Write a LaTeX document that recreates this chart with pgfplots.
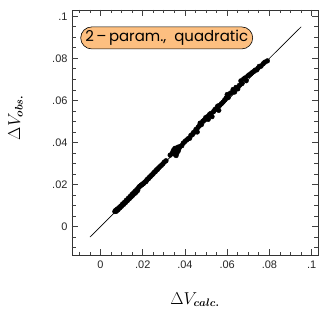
\documentclass[border=0pt]{standalone}
\usepackage{pgfplots}
\pgfplotsset{compat=1.18}
\usepackage{amsmath}
\usepackage{fontspec}
\setmainfont{Liberation Sans}
\newfontfamily\boxfont{Poppins}
\definecolor{boxorange}{HTML}{FDBF80}
\begin{document}
\begin{tikzpicture}
\begin{axis}[
  name=ax,
  scale only axis,
  width=246bp, height=245bp,
  xmin=-0.0135, xmax=0.103,
  ymin=-0.0135, ymax=0.103,
  xtick={0,0.02,0.04,0.06,0.08,0.1},
  xticklabels={0,.02,.04,.06,.08,.1},
  ytick={0,0.02,0.04,0.06,0.08,0.1},
  yticklabels={0,.02,.04,.06,.08,.1},
  minor xtick={-0.01,-0.005,0.005,0.01,0.015,0.025,0.03,0.035,0.045,0.05,0.055,0.065,0.07,0.075,0.085,0.09,0.095},
  minor ytick={-0.01,-0.005,0.005,0.01,0.015,0.025,0.03,0.035,0.045,0.05,0.055,0.065,0.07,0.075,0.085,0.09,0.095},
  xtick pos=both, ytick pos=both,
  tick align=inside,
  major tick length=6bp,
  minor tick length=3.5bp,
  tick style={draw=black!75, line width=0.8pt},
  axis line style={black!80, line width=0.7pt},
  xticklabel style={font=\fontsize{11}{13}\selectfont, text=black!85, yshift=-2bp},
  yticklabel style={font=\fontsize{11}{13}\selectfont, text=black!85, xshift=-1bp},
  scaled ticks=false,
  xlabel={$\Delta V_{\boldsymbol{calc.}}$},
  ylabel={$\Delta V_{\boldsymbol{obs.}}$},
  label style={font=\fontsize{16}{19}\selectfont},
  xlabel style={at={(axis description cs:0.5,-0.2)}, anchor=base, inner sep=0pt},
  ylabel style={at={(axis description cs:-0.26,0.56)}, anchor=north, inner sep=0pt},
  clip=false,
]
\pgfplotsinvokeforeach{0,0.02,0.04,0.06,0.08,0.1}{
  \draw[black!75, line width=0.8pt] (axis cs:#1,-0.0135) -- (axis cs:#1,-0.01066);
  \draw[black!75, line width=0.8pt] (axis cs:#1,0.103) -- (axis cs:#1,0.10016);
  \draw[black!75, line width=0.8pt] (axis cs:-0.0135,#1) -- (axis cs:-0.01066,#1);
  \draw[black!75, line width=0.8pt] (axis cs:0.103,#1) -- (axis cs:0.10016,#1);
}
\pgfplotsinvokeforeach{-0.01,-0.005,0.005,0.01,0.015,0.025,0.03,0.035,0.045,0.05,0.055,0.065,0.07,0.075,0.085,0.09,0.095}{
  \draw[black!75, line width=0.8pt] (axis cs:#1,-0.0135) -- (axis cs:#1,-0.01184);
  \draw[black!75, line width=0.8pt] (axis cs:#1,0.103) -- (axis cs:#1,0.10134);
  \draw[black!75, line width=0.8pt] (axis cs:-0.0135,#1) -- (axis cs:-0.01184,#1);
  \draw[black!75, line width=0.8pt] (axis cs:0.103,#1) -- (axis cs:0.10134,#1);
}
\addplot[black, line width=0.6pt, no marks] coordinates {(-0.005,-0.005) (0.095,0.095)};
\addplot[only marks, mark=*, mark size=2.4bp, black] table {
x y
0.0068 0.0072
0.0072 0.0078
0.0075 0.0073
0.0080 0.0084
0.0083 0.0080
0.0088 0.0090
0.0092 0.0089
0.0096 0.0098
0.0100 0.0097
0.0105 0.0108
0.0110 0.0106
0.0114 0.0116
0.0118 0.0114
0.0122 0.0125
0.0127 0.0123
0.0131 0.0134
0.0136 0.0132
0.0140 0.0143
0.0145 0.0141
0.0149 0.0153
0.0153 0.0149
0.0157 0.0161
0.0161 0.0157
0.0165 0.0169
0.0168 0.0163
0.0172 0.0176
0.0176 0.0172
0.0180 0.0185
0.0184 0.0190
0.0188 0.0193
0.0192 0.0197
0.0196 0.0199
0.0200 0.0203
0.0205 0.0206
0.0210 0.0212
0.0215 0.0214
0.0219 0.0221
0.0223 0.0226
0.0228 0.0229
0.0232 0.0235
0.0236 0.0238
0.0241 0.0244
0.0246 0.0248
0.0250 0.0253
0.0255 0.0259
0.0260 0.0262
0.0265 0.0270
0.0270 0.0272
0.0275 0.0279
0.0281 0.0285
0.0288 0.0291
0.0295 0.0298
0.0302 0.0307
0.0310 0.0313
0.0330 0.0340
0.0340 0.0350
0.0345 0.0362
0.0350 0.0345
0.0352 0.0372
0.0355 0.0355
0.0358 0.0338
0.0360 0.0367
0.0362 0.0350
0.0365 0.0377
0.0368 0.0360
0.0372 0.0372
0.0378 0.0382
0.0385 0.0385
0.0392 0.0397
0.0400 0.0405
0.0408 0.0412
0.0415 0.0418
0.0422 0.0420
0.0428 0.0434
0.0435 0.0437
0.0440 0.0447
0.0447 0.0450
0.0452 0.0462
0.0458 0.0450
0.0462 0.0472
0.0468 0.0480
0.0472 0.0492
0.0478 0.0485
0.0485 0.0502
0.0492 0.0507
0.0498 0.0518
0.0505 0.0522
0.0510 0.0510
0.0515 0.0532
0.0522 0.0538
0.0528 0.0523
0.0535 0.0547
0.0542 0.0557
0.0550 0.0562
0.0555 0.0573
0.0560 0.0553
0.0565 0.0577
0.0572 0.0584
0.0580 0.0592
0.0588 0.0602
0.0595 0.0612
0.0600 0.0628
0.0605 0.0614
0.0612 0.0632
0.0620 0.0637
0.0628 0.0652
0.0635 0.0640
0.0642 0.0662
0.0650 0.0655
0.0658 0.0672
0.0665 0.0693
0.0670 0.0680
0.0678 0.0702
0.0685 0.0707
0.0690 0.0694
0.0698 0.0717
0.0705 0.0722
0.0712 0.0727
0.0718 0.0732
0.0725 0.0737
0.0732 0.0744
0.0740 0.0745
0.0746 0.0754
0.0752 0.0762
0.0760 0.0763
0.0770 0.0774
0.0778 0.0782
0.0790 0.0788
};
\node[draw=black, line width=0.6pt, fill=boxorange, rounded corners=11bp,
      minimum width=172bp, minimum height=22bp, inner sep=0pt,
      font=\boxfont\fontsize{15}{17}\selectfont]
  at (rel axis cs:0.385,0.886) {2\,–\,param.,\ \ quadratic};
\end{axis}
\pgfresetboundingbox
\path ([xshift=-72bp,yshift=-54bp]ax.south west) rectangle ([xshift=9bp,yshift=10bp]ax.north east);
\end{tikzpicture}
\end{document}
